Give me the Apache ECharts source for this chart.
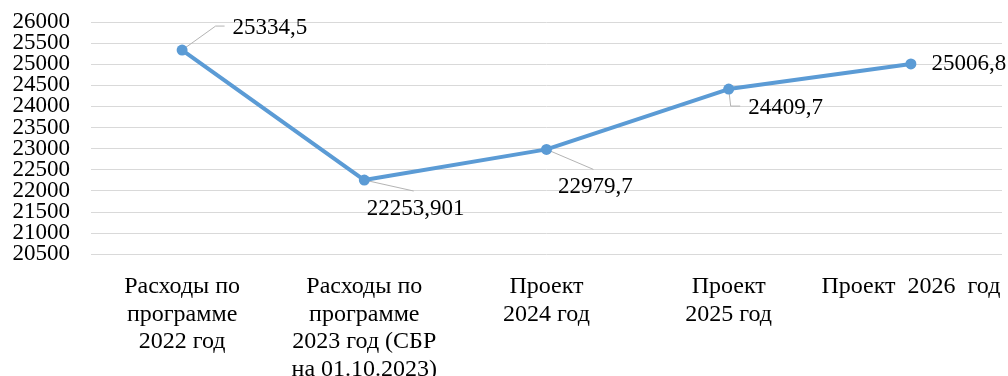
<!DOCTYPE html>
<html>
<head>
<meta charset="utf-8">
<script src="https://cdn.jsdelivr.net/npm/echarts@6/dist/echarts.min.js"></script>
<style>
  html, body { margin: 0; padding: 0; background: #fff; }
  #chart { width: 1008px; height: 376px; }
</style>
</head>
<body>
<div id="chart"></div>
<script>
// Categories (pre-wrapped as in the printed table headings)
const categories = [
  'Расходы по\nпрограмме\n2022 год',
  'Расходы по\nпрограмме\n2023 год (СБР\nна 01.10.2023)',
  'Проект\n2024 год',
  'Проект\n2025 год',
  'Проект  2026  год'
];
// Expenditure values
const values = [25334.5, 22253.901, 22979.7, 24409.7, 25006.8];
// Value labels as printed
const valueLabels = ['25334,5', '22253,901', '22979,7', '24409,7', '25006,8'];
// Y axis range
const yMin = 20500, yMax = 26000, yStep = 500;

// Label offsets from the default "right" placement and leader-line style per point
const labelShift = [
  { dx: 40, dy: -22, leader: 'elbowLeft' },
  { dx: -8, dy: 29, leader: 'toTop' },
  { dx: 1, dy: 38, leader: 'toTop' },
  { dx: 9, dy: 19, leader: 'downThenRight' },
  { dx: 10, dy: 0, leader: 'none' }
];

const font = "'Liberation Serif', 'Times New Roman', serif";
const valueFontSize = 23;
const symbolSize = 11;
const labelDistance = 5;
const chart = echarts.init(document.getElementById('chart'), null, { renderer: 'canvas' });

// Plain integers, no thousands separator
const yLabelStyle = {
  margin: 21,
  color: '#000',
  fontFamily: font,
  fontSize: 23,
  lineHeight: 18,
  formatter: v => String(v)
};

const option = {
  animation: false,
  backgroundColor: '#ffffff',
  grid: { left: 91, right: 6, top: 22, bottom: 122, outerBoundsMode: 'none' },
  xAxis: {
    type: 'category',
    data: categories,
    boundaryGap: true,
    axisLine: { show: false },
    axisTick: { show: false },
    axisLabel: {
      interval: 0,
      margin: 19,
      color: '#000',
      fontFamily: font,
      fontSize: 24,
      lineHeight: 27.5,
      align: 'center'
    }
  },
  yAxis: [
    {
      // Main value axis: gridlines and the inner tick labels
      type: 'value',
      position: 'left',
      min: yMin,
      max: yMax,
      interval: yStep,
      axisLine: { show: false },
      axisTick: { show: false },
      splitLine: { lineStyle: { color: '#d9d9d9', width: 1 } },
      axisLabel: Object.assign({ showMinLabel: false, showMaxLabel: false }, yLabelStyle)
    },
    {
      // Same scale, carrying only the end labels so they are never dropped as overlapping
      type: 'value',
      position: 'left',
      min: yMin,
      max: yMax,
      axisLine: { show: false },
      axisTick: { show: false },
      splitLine: { show: false },
      axisLabel: Object.assign({ customValues: [yMin, yMax] }, yLabelStyle)
    }
  ],
  series: [{
    type: 'line',
    data: values,
    yAxisIndex: 0,
    symbol: 'circle',
    symbolSize: symbolSize,
    z: 3,
    lineStyle: { color: '#5b9bd5', width: 4 },
    itemStyle: { color: '#5b9bd5' },
    label: {
      show: true,
      position: 'right',
      distance: labelDistance,
      color: '#000',
      fontFamily: font,
      fontSize: valueFontSize,
      formatter: p => valueLabels[p.dataIndex]
    },
    labelLayout: p => ({ dx: labelShift[p.dataIndex].dx, dy: labelShift[p.dataIndex].dy })
  }]
};

chart.setOption(option);

// Leader lines from each point to its shifted value label, placed via the chart's own scales
const measureCtx = document.createElement('canvas').getContext('2d');
measureCtx.font = valueFontSize + 'px ' + font;
const leaders = [];
values.forEach((v, i) => {
  const s = labelShift[i];
  if (s.leader === 'none') return;
  const [px, py] = chart.convertToPixel({ seriesIndex: 0 }, [i, v]);
  const lx = px + symbolSize / 2 + labelDistance + s.dx;   // label left edge
  const cy = py + s.dy;                                      // label vertical centre
  const w = measureCtx.measureText(valueLabels[i]).width;
  let pts;
  if (s.leader === 'elbowLeft') {
    pts = [[px, py], [lx - 17, cy - 2], [lx - 8, cy - 2]];
  } else if (s.leader === 'toTop') {
    pts = [[px, py], [lx + w / 2 - 2, cy - 18]];
  } else {
    pts = [[px, py], [px + 2, cy - 2], [lx - 8, cy - 2]];
  }
  leaders.push({
    type: 'polyline',
    silent: true,
    z: 1,
    shape: { points: pts },
    style: { stroke: '#b4b4b4', lineWidth: 1, fill: null }
  });
});
chart.setOption({ graphic: leaders });
</script>
</body>
</html>
